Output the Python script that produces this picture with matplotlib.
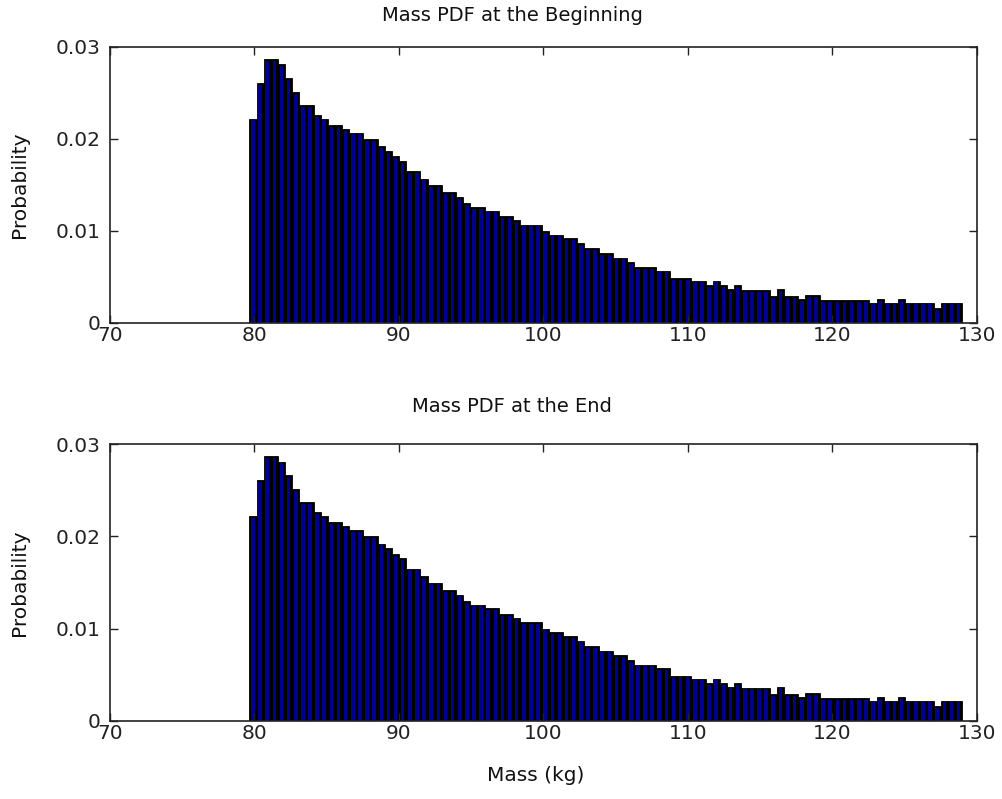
import numpy as np
import matplotlib
matplotlib.use("Agg")
import matplotlib.pyplot as plt

# Histogram data (probability per bin)
mass_min = 79.65
mass_max = 128.97
prob_begin = [
    0.0222, 0.0261, 0.0287, 0.0287, 0.0281, 0.0266, 0.0251, 0.0237, 0.0237, 0.0226,
    0.0222, 0.0215, 0.0215, 0.0211, 0.0207, 0.0207, 0.0200, 0.0200, 0.0192, 0.0187,
    0.0181, 0.0176, 0.0165, 0.0165, 0.0157, 0.0150, 0.0150, 0.0142, 0.0142, 0.0137,
    0.0130, 0.0126, 0.0126, 0.0122, 0.0122, 0.0116, 0.0116, 0.0112, 0.0107, 0.0107,
    0.0107, 0.0100, 0.0096, 0.0096, 0.0092, 0.0092, 0.0087, 0.0081, 0.0081, 0.0076,
    0.0076, 0.0071, 0.0071, 0.0066, 0.0061, 0.0061, 0.0061, 0.0057, 0.0057, 0.0049,
    0.0049, 0.0049, 0.0046, 0.0046, 0.0041, 0.0046, 0.0041, 0.0037, 0.0041, 0.0036,
    0.0036, 0.0036, 0.0036, 0.0029, 0.0037, 0.0029, 0.0029, 0.0026, 0.0030, 0.0030,
    0.0025, 0.0025, 0.0025, 0.0025, 0.0025, 0.0025, 0.0025, 0.0022, 0.0026, 0.0022,
    0.0022, 0.0026, 0.0022, 0.0022, 0.0022, 0.0022, 0.0016, 0.0022, 0.0022, 0.0022,
]
prob_end = list(prob_begin)

titles = ["Mass PDF at the Beginning", "Mass PDF at the End"]
xticks = [70, 80, 90, 100, 110, 120, 130]
yticks = [0, 0.01, 0.02, 0.03]
yticklabels = ["0", "0.01", "0.02", "0.03"]

plt.rcParams['font.family'] = ['DejaVu Sans']
FS = 14.5

W, H = 1003, 799
fig = plt.figure(figsize=(W / 100, H / 100), dpi=100)

def px_axes(l, t, r, b):
    return fig.add_axes([l / W, 1 - b / H, (r - l) / W, (b - t) / H])

ax1 = px_axes(110, 47, 977, 323)
ax2 = px_axes(110, 444, 977, 721)

bar_blue = (0.0, 0.0, 0.55)

for ax, vals, title, tpad in [(ax1, prob_begin, titles[0], 19), (ax2, prob_end, titles[1], 23)]:
    vals = np.array(vals)
    n = len(vals)
    w = (mass_max - mass_min) / n
    centers = mass_min + w * (np.arange(n) + 0.5)
    # black outline bars
    ax.bar(centers, vals, width=w, color='black', edgecolor='black', linewidth=0.6)
    # blue fill inside
    ax.bar(centers, vals - 0.00018, width=w * 0.5, color=bar_blue, linewidth=0)
    ax.set_xlim(70, 130)
    ax.set_ylim(0, 0.03)
    ax.set_xticks(xticks)
    ax.set_xticklabels([str(t) for t in xticks])
    ax.set_yticks(yticks)
    ax.set_yticklabels(yticklabels)
    ax.tick_params(direction='in', length=6, width=1, top=True, right=True,
                   labelsize=FS, colors='#222222')
    ax.tick_params(axis='x', pad=2)
    ax.tick_params(axis='y', pad=7)
    for s in ax.spines.values():
        s.set_linewidth(1.2)
        s.set_color('#222222')
    ax.set_title(title, fontsize=14, pad=tpad, color='#111111', x=0.464)
    ax.set_ylabel("Probability", fontsize=FS, labelpad=19, color='#111111')

ax2.set_xlabel("Mass (kg)", fontsize=FS, labelpad=17, color='#111111', x=0.491)

fig.savefig("out.png", dpi=100, facecolor='white')
